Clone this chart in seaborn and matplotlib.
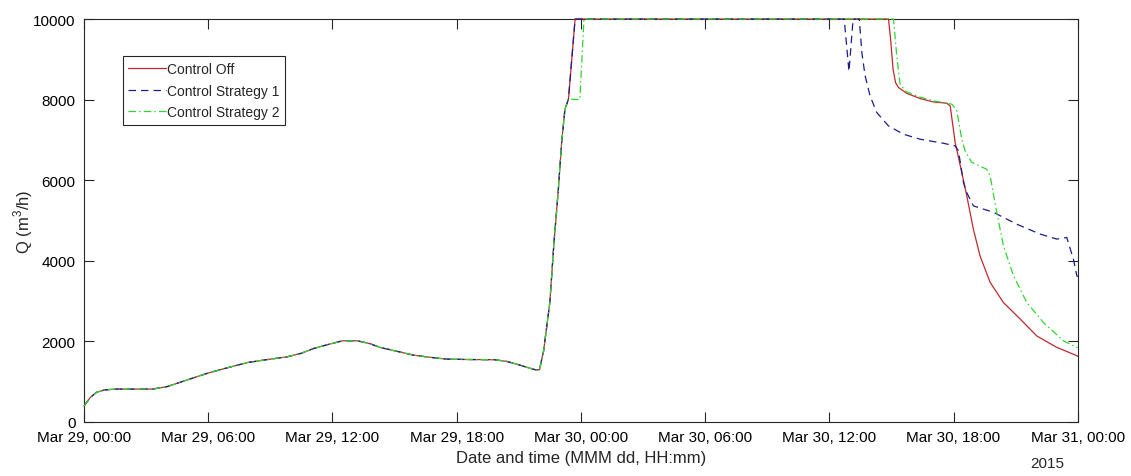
import numpy as np
import pandas as pd
import matplotlib
matplotlib.use("Agg")
import matplotlib.pyplot as plt
import matplotlib.dates as mdates
from matplotlib.lines import Line2D
import seaborn as sns

# ---------------- data (hours after Mar 29 2015 00:00, Q in m3/h) ----------------
common_hours = [0, 0.3, 0.6, 1.0, 1.5, 2.5, 3.3, 4.0, 5.0, 6.0, 7.0, 7.9, 8.8, 9.8,
                10.5, 11.1, 11.8, 12.5, 13.2, 13.8, 14.3, 15.1, 15.9, 16.7, 17.5,
                18.5, 19.8, 20.4, 20.9, 21.4, 21.8, 22.0, 22.2, 22.5, 22.7, 22.9,
                23.07, 23.23, 23.4]
common_q = [390, 600, 730, 790, 810, 810, 810, 870, 1040, 1210, 1350, 1470, 1540, 1610,
            1700, 1820, 1920, 2010, 2010, 1940, 1845, 1750, 1655, 1600, 1555,
            1545, 1540, 1500, 1430, 1350, 1290, 1290, 1760, 2960, 4450, 5690,
            6930, 7760, 8010]

off_hours = [23.56, 23.72, 38.86, 38.96, 39.08, 39.2, 39.34, 39.74, 40.39, 41.03, 41.67,
             41.84, 42.08, 42.4, 42.64, 42.96, 43.28, 43.77, 44.41, 45.22, 46.02,
             46.99, 47.96, 48.0]
off_q = [9000, 10000, 10000, 9500, 8750, 8420, 8300, 8155, 8025, 7940, 7910,
         7840, 6930, 6190, 5610, 4780, 4120, 3460, 2960, 2550, 2130,
         1845, 1640, 1620]

s1_hours = [23.56, 23.72, 36.72, 36.95, 37.15, 37.45, 37.57, 37.73, 37.97, 38.29,
            38.86, 39.58, 40.39, 41.51, 42.08, 42.24, 42.48, 42.64, 42.96, 43.93,
            45.06, 46.18, 46.99, 47.47, 47.79, 47.96, 48.0]
s1_q = [9000, 10000, 10000, 8700, 10000, 10000, 9170, 8590, 8090, 7680,
        7345, 7140, 7015, 6915, 6850, 6725, 5940, 5690, 5360, 5200,
        4905, 4660, 4535, 4575, 4040, 3620, 3600]

s2_hours = [23.95, 24.15, 39.1, 39.26, 39.42, 39.7, 40.39, 41.03, 41.92, 42.16,
            42.4, 42.56, 42.88, 43.6, 43.77, 44.09, 44.41, 44.9, 45.54, 46.34,
            47.31, 47.96, 48.0]
s2_q = [8000, 10000, 10000, 9080, 8380, 8200, 8060, 7970, 7885, 7720,
        7015, 6725, 6440, 6270, 6105, 5195, 4370, 3620, 2960, 2465,
        2010, 1845, 1840]

series_names = ["Control Off", "Control Strategy 1", "Control Strategy 2"]
start = pd.Timestamp("2015-03-29 00:00")

def build(name, hours, q):
    h = common_hours + hours
    v = common_q + q
    return pd.DataFrame({"time": start + pd.to_timedelta(h, unit="h"), "Q": v, "series": name})

df = pd.concat([build(series_names[0], off_hours, off_q),
                build(series_names[1], s1_hours, s1_q),
                build(series_names[2], s2_hours, s2_q)], ignore_index=True)

# ---------------- styling ----------------
sns.set_style("white")
plt.rcParams["font.family"] = ["Liberation Sans", "DejaVu Sans"]
plt.rcParams["mathtext.fontset"] = "custom"
plt.rcParams["mathtext.rm"] = "Liberation Sans"

colors = {"Control Off": "#c0282d", "Control Strategy 1": "#1c1c8c", "Control Strategy 2": "#2ed62e"}
styles = {"Control Off": "-", "Control Strategy 1": (0, (6, 4)), "Control Strategy 2": (0, (6, 2.5, 1.2, 2.5))}

fig = plt.figure(figsize=(11.31, 4.77), dpi=100)
ax = fig.add_axes([0.0743, 0.1138, 0.8786, 0.8442])

for name in series_names:
    sub = df[df["series"] == name]
    sns.lineplot(data=sub, x="time", y="Q", ax=ax, color=colors[name],
                 linewidth=0.9, linestyle=styles[name], legend=False, estimator=None,
                 sort=False)

for ln in ax.get_lines():
    ln.set_clip_on(False)
    ln.set_zorder(3)

ax.set_xlim(start, start + pd.Timedelta(hours=48))
ax.set_ylim(0, 10000)
ax.set_yticks([0, 2000, 4000, 6000, 8000, 10000])
ax.xaxis.set_major_locator(mdates.HourLocator(byhour=[0, 6, 12, 18]))
ax.xaxis.set_major_formatter(mdates.DateFormatter("%b %d, %H:%M"))

for sp in ax.spines.values():
    sp.set_visible(True)
    sp.set_color("#262626")
    sp.set_linewidth(0.8)
    sp.set_zorder(2)

ax.tick_params(axis="both", which="both", direction="in", length=7, width=0.8,
               top=True, right=True, bottom=True, left=True, colors="#262626",
               labelsize=11, labelcolor="black", pad=6)

ax.set_xlabel("Date and time (MMM dd, HH:mm)", fontsize=12, labelpad=4)
ax.set_ylabel("Q (m$^3$/h)", fontsize=12, labelpad=-1)

ax.annotate("2015", xy=(1.0, 0.0), xycoords="axes fraction",
            xytext=(-47, -34), textcoords="offset pixels",
            ha="left", va="top", fontsize=11)

handles = [Line2D([0], [0], color=colors[n], linestyle=styles[n], linewidth=0.9) for n in series_names]
leg = ax.legend(handles, series_names, loc="upper left", bbox_to_anchor=(0.039, 0.907),
                frameon=True, fancybox=False, framealpha=1, edgecolor="#262626",
                fontsize=10, handlelength=2.7, handletextpad=0.1, borderpad=0.4,
                labelspacing=0.55, borderaxespad=0)
leg.get_frame().set_linewidth(0.8)

fig.savefig("out.png", dpi=100)
